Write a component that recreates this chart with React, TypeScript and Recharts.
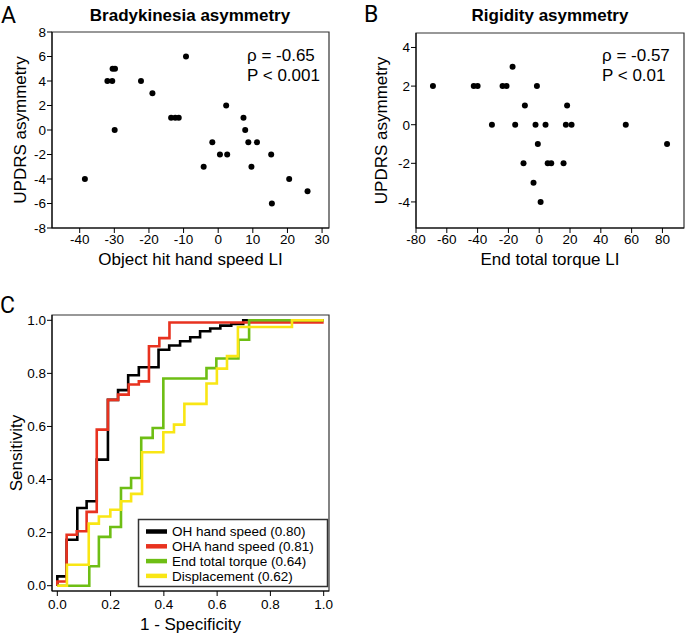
import React from "react";
import {
  ScatterChart,
  Scatter,
  LineChart,
  Line,
  XAxis,
  YAxis,
  ReferenceArea,
} from "recharts";

// Panel A: object hit hand speed LI vs UPDRS bradykinesia asymmetry
const bradyLI = [
  -38.5, -32, -30.6, -30.5, -29.8, -29.9, -22.3, -19, -9.3, -13.6, -12.4, -11.4, 2.3,
  -1.7, 0.5, 2.6, -4.2, 7.3, 7.8, 8.7, 11.2, 9.6, 15.3, 15.5, 20.5, 25.8,
];
const bradyUPDRS = [
  -4, 4, 4, 5, 5, 0, 4, 3, 6, 1, 1, 1, 2, -1, -2, -2, -3, 1, 0, -1, -1, -3, -2, -6, -4, -5,
];
const bradyTicksX = [-40, -30, -20, -10, 0, 10, 20, 30];
const bradyTicksY = [-8, -6, -4, -2, 0, 2, 4, 6, 8];

// Panel B: end total torque LI vs UPDRS rigidity asymmetry
const rigidLI = [
  -69, -42.5, -40, -23.8, -21.2, -17.3, -1.5, -9.3, -30.7, -15.6, -2.4, 4.1, -0.9, -10.2,
  5.5, 7.8, 15.8, -3.7, 0.9, 18.1, 17.3, 21, 56.2, 83,
];
const rigidUPDRS = [
  2, 2, 2, 2, 2, 3, 2, 1, 0, 0, 0, 0, -1, -2, -2, -2, -2, -3, -4, 1, 0, 0, 0, -1,
];
const rigidTicksX = [-80, -60, -40, -20, 0, 20, 40, 60, 80];
const rigidTicksY = [-4, -2, 0, 2, 4];

// Panel C: ROC curves (1 - specificity, sensitivity)
const ohFpr = [0, 0, 0.035, 0.075, 0.11, 0.148, 0.19, 0.228, 0.266, 0.306, 0.38, 0.42, 0.461, 0.499, 0.536, 0.574, 0.612, 0.653, 0.698, 1.0];
const ohTpr = [0, 0.035, 0.173, 0.293, 0.318, 0.475, 0.7, 0.737, 0.793, 0.823, 0.889, 0.905, 0.921, 0.936, 0.959, 0.969, 0.98, 0.986, 1.0, 1.0];
const ohaFpr = [0, 0, 0.035, 0.073, 0.11, 0.148, 0.19, 0.228, 0.268, 0.306, 0.344, 0.383, 0.421, 1.0];
const ohaTpr = [0, 0.016, 0.192, 0.205, 0.278, 0.588, 0.7, 0.72, 0.758, 0.77, 0.902, 0.933, 0.992, 0.992];
const torqueFpr = [0, 0.12, 0.156, 0.199, 0.239, 0.277, 0.315, 0.358, 0.398, 0.56, 0.597, 0.68, 0.72, 1.0];
const torqueTpr = [0, 0.073, 0.184, 0.221, 0.368, 0.406, 0.557, 0.594, 0.781, 0.82, 0.856, 0.927, 1.0, 1.0];
const dispFpr = [0, 0.036, 0.118, 0.156, 0.199, 0.239, 0.277, 0.318, 0.398, 0.438, 0.477, 0.56, 0.599, 0.637, 0.678, 0.881, 1.0];
const dispTpr = [0, 0.079, 0.234, 0.261, 0.286, 0.318, 0.346, 0.503, 0.578, 0.607, 0.685, 0.762, 0.818, 0.865, 0.975, 1.0, 1.0];
const rocTicks = [0, 0.2, 0.4, 0.6, 0.8, 1.0];

const rocNames = ["OH hand speed (0.80)", "OHA hand speed (0.81)", "End total torque (0.64)", "Displacement (0.62)"];
const rocColors = ["#000000", "#e8321f", "#6ebe14", "#f9e614"];

const zip = (xs: number[], ys: number[]) => xs.map((x, i) => ({ x, y: ys[i] }));

const bradyData = zip(bradyLI, bradyUPDRS);
const rigidData = zip(rigidLI, rigidUPDRS);
const rocSeries = [
  zip(ohFpr, ohTpr),
  zip(ohaFpr, ohaTpr),
  zip(torqueFpr, torqueTpr),
  zip(dispFpr, dispTpr),
];

const FONT = "'Liberation Sans', Arial, sans-serif";
const tickStyle = { fontSize: 13.5, fill: "#000", fontFamily: FONT };
const titleStyle = { fontSize: 17, fill: "#000", fontFamily: FONT };

const Dot = (p: any) => <circle cx={p.cx} cy={p.cy} r={3} fill="#000" />;

const fmt1 = (v: number) => v.toFixed(1);

export default function App() {
  return (
    <div style={{ position: "absolute", left: 0, top: 0, width: 685, height: 635, background: "#fff" }}>
      {/* A */}
      <div style={{ position: "absolute", left: 0, top: 0 }}>
        <ScatterChart width={340} height={290} margin={{ top: 32, right: 11, bottom: 0, left: 0 }}>
          <XAxis
            type="number"
            dataKey="x"
            domain={[-48, 32]}
            ticks={bradyTicksX}
            interval={0}
            tick={tickStyle}
            tickSize={5}
            tickMargin={1}
            height={62}
            stroke="#000"
            label={{ value: "Object hit hand speed LI", position: "insideBottom", offset: 25, style: titleStyle }}
          />
          <YAxis
            type="number"
            dataKey="y"
            domain={[-8, 8]}
            ticks={bradyTicksY}
            interval={0}
            tick={tickStyle}
            tickSize={5}
            tickMargin={1}
            width={52}
            stroke="#000"
            label={{ value: "UPDRS asymmetry", angle: -90, position: "insideLeft", offset: 20, style: { ...titleStyle, textAnchor: "middle" } }}
          />
          <ReferenceArea x1={-48} x2={32} y1={-8} y2={8} fill="none" stroke="#333" strokeWidth={1.2} ifOverflow="visible" />
          <Scatter data={bradyData} shape={Dot} isAnimationActive={false} />
        </ScatterChart>
      </div>

      {/* B */}
      <div style={{ position: "absolute", left: 340, top: 0 }}>
        <ScatterChart width={345} height={290} margin={{ top: 33, right: 1, bottom: 0, left: 0 }}>
          <XAxis
            type="number"
            dataKey="x"
            domain={[-80, 94]}
            ticks={rigidTicksX}
            interval={0}
            tick={tickStyle}
            tickSize={5}
            tickMargin={1}
            height={62}
            stroke="#000"
            label={{ value: "End total torque LI", position: "insideBottom", offset: 25, style: titleStyle }}
          />
          <YAxis
            type="number"
            dataKey="y"
            domain={[-5.35, 4.75]}
            ticks={rigidTicksY}
            interval={0}
            tick={tickStyle}
            tickSize={5}
            tickMargin={1}
            width={76}
            stroke="#000"
            label={{ value: "UPDRS asymmetry", angle: -90, position: "insideLeft", offset: 41, style: { ...titleStyle, textAnchor: "middle" } }}
          />
          <ReferenceArea x1={-80} x2={94} y1={-5.35} y2={4.75} fill="none" stroke="#333" strokeWidth={1.2} ifOverflow="visible" />
          <Scatter data={rigidData} shape={Dot} isAnimationActive={false} />
        </ScatterChart>
      </div>

      {/* C */}
      <div style={{ position: "absolute", left: 0, top: 290 }}>
        <LineChart width={340} height={345} margin={{ top: 25, right: 11, bottom: 0, left: 0 }}>
          <XAxis
            type="number"
            dataKey="x"
            domain={[-0.02, 1.02]}
            ticks={rocTicks}
            interval={0}
            tickFormatter={fmt1}
            tick={tickStyle}
            tickSize={5}
            tickMargin={3}
            height={44}
            stroke="#000"
            label={{ value: "1 - Specificity", position: "insideBottom", offset: 5, style: titleStyle }}
          />
          <YAxis
            type="number"
            dataKey="y"
            domain={[-0.02, 1.02]}
            ticks={rocTicks}
            interval={0}
            tickFormatter={fmt1}
            tick={tickStyle}
            tickSize={5}
            tickMargin={1}
            width={52}
            stroke="#000"
            label={{ value: "Sensitivity", angle: -90, position: "insideLeft", offset: 16, style: { ...titleStyle, textAnchor: "middle" } }}
          />
          <ReferenceArea x1={-0.02} x2={1.02} y1={-0.02} y2={1.02} fill="none" stroke="#333" strokeWidth={1.2} ifOverflow="visible" />
          {rocSeries.map((d, i) => (
            <Line
              key={rocNames[i]}
              data={d}
              dataKey="y"
              type="stepAfter"
              stroke={rocColors[i]}
              strokeWidth={2.6}
              dot={false}
              activeDot={false}
              isAnimationActive={false}
            />
          ))}
        </LineChart>
      </div>

      {/* panel letters, titles, stats, legend */}
      <svg width={685} height={635} style={{ position: "absolute", left: 0, top: 0, pointerEvents: "none" }}>
        <g fontFamily="Roboto, sans-serif" fontSize={23} fill="#000">
          <text x={1} y={22.5}>A</text>
          <text x={364} y={21.5}>B</text>
          <text x={0} y={313}>C</text>
        </g>
        <g fontFamily={FONT} fontSize={17} fontWeight="bold" textAnchor="middle" fill="#000">
          <text x={190} y={21}>Bradykinesia asymmetry</text>
          <text x={550} y={21}>Rigidity asymmetry</text>
        </g>
        <g fontFamily={FONT} fontSize={17} fill="#000">
          <text x={247} y={60.5}>ρ = -0.65</text>
          <text x={247} y={80.5}>P &lt; 0.001</text>
          <text x={602} y={60.5}>ρ = -0.57</text>
          <text x={602} y={80.5}>P &lt; 0.01</text>
        </g>
        <rect x={138.5} y={519.5} width={189} height={67} fill="#fff" stroke="#333" strokeWidth={1.5} />
        {rocNames.map((n, i) => (
          <g key={n}>
            <line x1={146} x2={167} y1={531.5 + i * 14.8} y2={531.5 + i * 14.8} stroke={rocColors[i]} strokeWidth={4.5} />
            <text x={172} y={536.3 + i * 14.8} fontFamily={FONT} fontSize={13.5} fill="#000">{n}</text>
          </g>
        ))}
      </svg>
    </div>
  );
}
